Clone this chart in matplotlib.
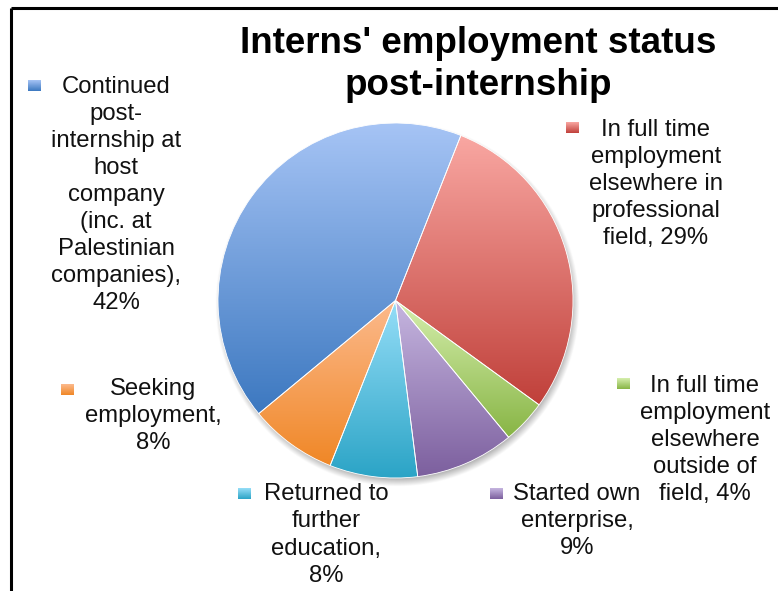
import numpy as np
import matplotlib
matplotlib.use("Agg")
import matplotlib.pyplot as plt
from matplotlib.colors import to_rgb

plt.rcParams['font.family'] = ['Liberation Sans', 'DejaVu Sans']

# slices, clockwise from the top-right
labels = ["In full time\nemployment\nelsewhere in\nprofessional\nfield",
          "In full time\nemployment\nelsewhere\noutside of\nfield",
          "Started own\nenterprise",
          "Returned to\nfurther\neducation",
          "Seeking\nemployment",
          "Continued\npost-\ninternship at\nhost\ncompany\n(inc. at\nPalestinian\ncompanies)"]
shares = [29, 4, 9, 8, 8, 42]
pct_sep = [", ", ", ", ",\n", ",\n", ",\n", ",\n"]

# gradient colours (top, bottom) for every slice
tops = ["#f9a7a2", "#d6efae", "#c6b6e0", "#96def8", "#fcba8d", "#a6c4f5"]
bottoms = ["#c0403a", "#88b545", "#7c5f9e", "#2ba4c6", "#f08726", "#3c78c0"]

W, H = 778, 591
fig = plt.figure(figsize=(W / 100, H / 100), dpi=100)
ax = fig.add_axes([0, 0, 1, 1])


def fy(y):
    return H - y


def gradient(top, bottom, n=256):
    a, b = np.array(to_rgb(top)), np.array(to_rgb(bottom))
    t = np.linspace(0, 1, n)[:, None]
    return (a * (1 - t) + b * t)[:, None, :]


cx, cy, R = 395.5, fy(300.5), 177.5

# soft drop shadow under the pie
gx = np.linspace(cx - R - 20, cx + R + 20, 400)
gy = np.linspace(cy - R - 20, cy + R + 20, 400)
XX, YY = np.meshgrid(gx, gy)
d = np.hypot(XX - (cx + 2), YY - (cy - 4))
alpha = np.clip((R + 5 - d) / 10, 0, 1) * 0.35
shadow = np.zeros(XX.shape + (4,))
shadow[..., 3] = alpha
ax.imshow(shadow, extent=(gx[0], gx[-1], gy[0], gy[-1]), origin='lower',
          zorder=0, interpolation='bilinear')

wedges, _ = ax.pie(shares, startangle=68.4, counterclock=False, radius=R,
                   center=(cx, cy), frame=True,
                   wedgeprops=dict(linewidth=0.6, edgecolor='white'))

for w, c0, c1 in zip(wedges, tops, bottoms):
    ext = w.get_path().get_extents()
    im = ax.imshow(gradient(c0, c1), extent=(ext.x0, ext.x1, ext.y0, ext.y1),
                   origin='upper', aspect='auto', zorder=1, interpolation='bilinear')
    im.set_clip_path(w)
    w.set_facecolor('none')
    w.set_zorder(2)

# label blocks: text centre and legend key position
text_pos = [(656, 184), (705, 440), (577, 521), (326, 535), (153, 416), (116, 195)]
key_pos = [(566, 122), (617, 378), (490, 488), (238, 488), (61, 384), (28, 80)]

for lab, sep, v, (tx, ty), (kx, ky), c0, c1 in zip(labels, pct_sep, shares, text_pos,
                                                    key_pos, tops, bottoms):
    ax.text(tx, fy(ty), f"{lab}{sep}{v}%", ha='center', va='center',
            fontsize=17.2, linespacing=1.3, color='#111111')
    ax.imshow(gradient(c0, c1), extent=(kx, kx + 13, fy(ky + 11), fy(ky)),
              origin='upper', aspect='auto', zorder=3)

ax.text(478, fy(26), "Interns' employment status\npost-internship", ha='center',
        va='top', fontsize=26.5, fontweight='bold', linespacing=1.25)

# outer frame (top and left edges)
ax.plot([11.5, W], [fy(8), fy(8)], color='black', lw=2.2, solid_capstyle='butt')
ax.plot([11.5, 11.5], [fy(8), 0], color='black', lw=2.2, solid_capstyle='butt')

ax.set_xlim(0, W)
ax.set_ylim(0, H)
ax.set_aspect('auto')
ax.axis('off')

fig.savefig("out.png", dpi=100)
